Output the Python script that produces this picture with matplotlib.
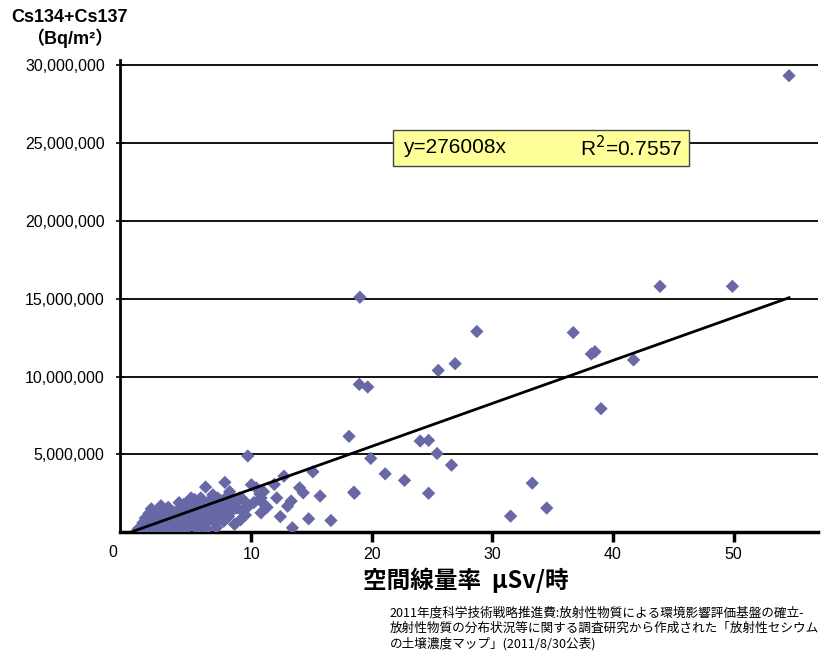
"""Cs134+Cs137 soil deposition vs. air dose rate, with zero-intercept trend line."""
import matplotlib
matplotlib.use("Agg")
import matplotlib.pyplot as plt
import matplotlib.ticker as mticker
from matplotlib.patches import Rectangle

plt.rcParams["font.family"] = ["Liberation Sans", "Noto Sans CJK JP", "DejaVu Sans"]

# ── data ──────────────────────────────────────────────────────────────────────
# air dose rate, uSv/h
DOSE = [
    0.8, 0.9, 1.0, 1.1, 1.2, 1.3, 1.4, 1.5, 1.6, 1.7, 1.8, 1.9, 2.0, 2.1, 2.2,
    2.3, 2.4, 2.5, 2.6, 2.7, 2.8, 2.9, 3.0, 3.1, 3.2, 3.3, 3.4, 3.5, 3.6, 3.7,
    3.8, 3.9, 4.0, 4.1, 4.2, 4.3, 4.4, 4.5, 4.6, 4.7, 4.8, 4.9, 5.0, 5.1, 5.2,
    5.3, 5.4, 5.5, 5.6, 5.7, 5.8, 5.9, 6.0, 6.1, 6.2, 6.3, 6.4, 6.5, 6.6, 6.7,
    6.8, 6.9, 7.0, 7.1, 7.2, 7.3, 7.4, 7.5, 7.6, 7.8, 7.9, 8.0, 8.2, 8.3, 8.5,
    8.6, 8.8, 9.0, 9.3, 9.5, 9.7, 9.8, 10.0, 10.2, 10.4, 10.7, 10.8, 10.8, 10.9,
    1.0, 1.2, 1.5, 1.7, 2.3, 2.5, 1.3, 1.9, 2.6, 3.3, 3.8, 4.3, 4.6, 5.1, 5.4,
    3.0, 3.6, 4.1, 2.0, 2.8, 4.9, 5.7, 6.3, 1.1, 1.6, 2.2, 0.7, 0.6, 1.4,
    2.4, 3.1, 3.5, 4.0, 4.4, 5.0, 5.6, 6.0, 6.6, 7.0, 7.4, 8.1, 8.7, 9.2,
    2.7, 3.4, 4.2, 4.8, 5.5, 6.4, 7.2, 7.7, 8.4, 9.1,
    11.0, 11.3, 11.9, 12.1, 12.4, 12.7, 13.0, 13.3, 13.4, 14.0, 14.3, 14.75,
    15.1, 15.7, 16.6, 18.1, 18.5, 18.55, 18.95, 19.0, 19.65, 19.9, 21.1, 22.7,
    24.0, 24.7, 24.7, 25.4, 25.5, 26.6, 26.9, 28.7, 31.5, 33.3, 34.5, 36.7,
    38.2, 38.5, 39.0, 41.7, 43.9, 49.9, 54.6,
]
# Cs134+Cs137 deposition, Bq/m2
CESIUM = [
    0.10e6, 0.30e6, 0.05e6, 0.20e6, 0.40e6, 0.10e6, 0.25e6, 0.50e6, 0.15e6,
    0.35e6, 0.05e6, 0.60e6, 0.30e6, 0.10e6, 0.80e6, 0.45e6, 1.00e6, 0.20e6,
    0.60e6, 1.20e6, 0.35e6, 0.05e6, 0.70e6, 1.00e6, 0.40e6, 0.15e6, 0.90e6,
    1.30e6, 0.55e6, 0.25e6, 1.10e6, 0.75e6, 1.50e6, 0.40e6, 1.00e6, 0.10e6,
    1.80e6, 0.65e6, 1.25e6, 0.30e6, 2.00e6, 0.90e6, 1.50e6, 0.60e6, 1.10e6,
    2.10e6, 0.35e6, 1.70e6, 0.80e6, 1.30e6, 2.20e6, 0.50e6, 1.00e6, 1.90e6,
    2.90e6, 1.40e6, 0.70e6, 2.00e6, 1.10e6, 1.60e6, 2.40e6, 0.90e6, 1.80e6,
    0.30e6, 2.20e6, 0.90e6, 1.40e6, 2.00e6, 1.20e6, 3.20e6, 1.70e6, 2.30e6,
    2.60e6, 1.30e6, 2.00e6, 0.50e6, 1.55e6, 2.20e6, 2.10e6, 1.10e6, 4.90e6,
    1.70e6, 3.05e6, 1.90e6, 2.85e6, 2.45e6, 2.20e6, 1.24e6, 1.90e6,
    0.60e6, 0.90e6, 1.20e6, 1.50e6, 1.40e6, 1.70e6, 0.70e6, 1.10e6, 0.90e6,
    0.60e6, 0.50e6, 0.70e6, 0.20e6, 1.30e6, 0.90e6, 0.20e6, 0.10e6, 1.20e6,
    0.05e6, 0.15e6, 1.20e6, 0.40e6, 0.20e6, 0.45e6, 0.70e6, 0.30e6, 0.15e6,
    0.20e6, 0.05e6,
    1.30e6, 1.60e6, 0.80e6, 1.90e6, 1.20e6, 2.20e6, 1.00e6, 0.40e6, 1.40e6,
    0.60e6, 1.70e6, 1.00e6, 1.90e6, 1.40e6,
    0.90e6, 0.30e6, 0.60e6, 1.60e6, 0.20e6, 1.20e6, 1.50e6, 0.70e6, 1.80e6,
    0.80e6,
    2.60e6, 1.60e6, 3.07e6, 2.20e6, 1.00e6, 3.60e6, 1.67e6, 2.00e6, 0.28e6,
    2.85e6, 2.53e6, 0.86e6, 3.88e6, 2.32e6, 0.75e6, 6.16e6, 2.57e6, 2.50e6,
    9.50e6, 15.10e6, 9.33e6, 4.74e6, 3.75e6, 3.33e6, 5.86e6, 5.90e6, 2.50e6,
    5.06e6, 10.40e6, 4.31e6, 10.83e6, 12.90e6, 1.03e6, 3.15e6, 1.55e6,
    12.83e6, 11.45e6, 11.60e6, 7.94e6, 11.07e6, 15.80e6, 15.80e6, 29.34e6,
]

SLOPE = 276008          # trend line through origin
R2 = 0.7557
FIT_X = [0, 54.6]       # extent of the trend line

X_TICKS = [10, 20, 30, 40, 50]
Y_TICKS = [5e6, 10e6, 15e6, 20e6, 25e6, 30e6]

MARKER_COLOR = "#6868a6"
BOX_COLOR = "#ffff99"

NOTE = ("2011年度科学技術戦略推進費:放射性物質による環境影響評価基盤の確立-\n"
        "放射性物質の分布状況等に関する調査研究から作成された「放射性セシウム\n"
        "の土壌濃度マップ」(2011/8/30公表)")


def main():
    fig = plt.figure(figsize=(8.23, 6.57), dpi=100)
    fig.patch.set_facecolor("white")
    ax = fig.add_axes([0.1458, 0.190, 0.8481, 0.7187])

    ax.scatter(DOSE, CESIUM, marker="D", s=46, color=MARKER_COLOR,
               edgecolors="none", zorder=3)
    ax.plot(FIT_X, [SLOPE * x for x in FIT_X], color="black", lw=2.0, zorder=4)

    ax.set_xlim(-0.9, 57.0)
    ax.set_ylim(0, 30.35e6)

    ax.set_xticks(X_TICKS)
    ax.set_yticks(Y_TICKS)
    ax.yaxis.set_major_formatter(mticker.FuncFormatter(lambda v, _: f"{v:,.0f}"))
    ax.tick_params(axis="x", direction="out", length=7, width=2.5,
                   labelsize=11.5, pad=4)
    ax.tick_params(axis="y", direction="inout", length=6, width=1.2,
                   labelsize=11.5, pad=8)
    ax.text(-0.010, -0.027, "0", transform=ax.transAxes, ha="center", va="top",
            fontsize=11.5)

    ax.grid(axis="y", color="black", lw=1.3)
    ax.set_axisbelow(True)
    for side in ("top", "right"):
        ax.spines[side].set_visible(False)
    ax.spines["left"].set_linewidth(2.0)
    ax.spines["bottom"].set_linewidth(2.5)

    # equation box
    ax.add_patch(Rectangle((0.391, 0.776), 0.424, 0.076, transform=ax.transAxes,
                           facecolor=BOX_COLOR, edgecolor="#444444", lw=1.0,
                           zorder=5))
    ax.text(0.405, 0.814, f"y={SLOPE}x", transform=ax.transAxes,
            ha="left", va="center", fontsize=15, zorder=6)
    ax.text(0.805, 0.814, f"R$^2$={R2}", transform=ax.transAxes,
            ha="right", va="center", fontsize=15, zorder=6)

    # axis titles
    fig.text(70 / 823, 1 - 17 / 657, "Cs134+Cs137", ha="center", va="center",
             fontsize=13, fontweight="bold")
    fig.text(70 / 823, 1 - 38 / 657, "（Bq/m²）", ha="center", va="center",
             fontsize=13, fontweight="bold")
    fig.text(466 / 823, 1 - 580 / 657, "空間線量率  μSv/時", ha="center",
             va="center", fontsize=17, fontweight="bold",
             family=["Noto Sans CJK JP", "DejaVu Sans"])

    fig.text(390 / 823, 1 - 607 / 657, NOTE, ha="left", va="top",
             fontsize=9.1, linespacing=1.2,
             family=["Noto Sans CJK JP", "DejaVu Sans"])

    fig.savefig("out.png", dpi=100, facecolor="white")
    plt.close(fig)


if __name__ == "__main__":
    main()
